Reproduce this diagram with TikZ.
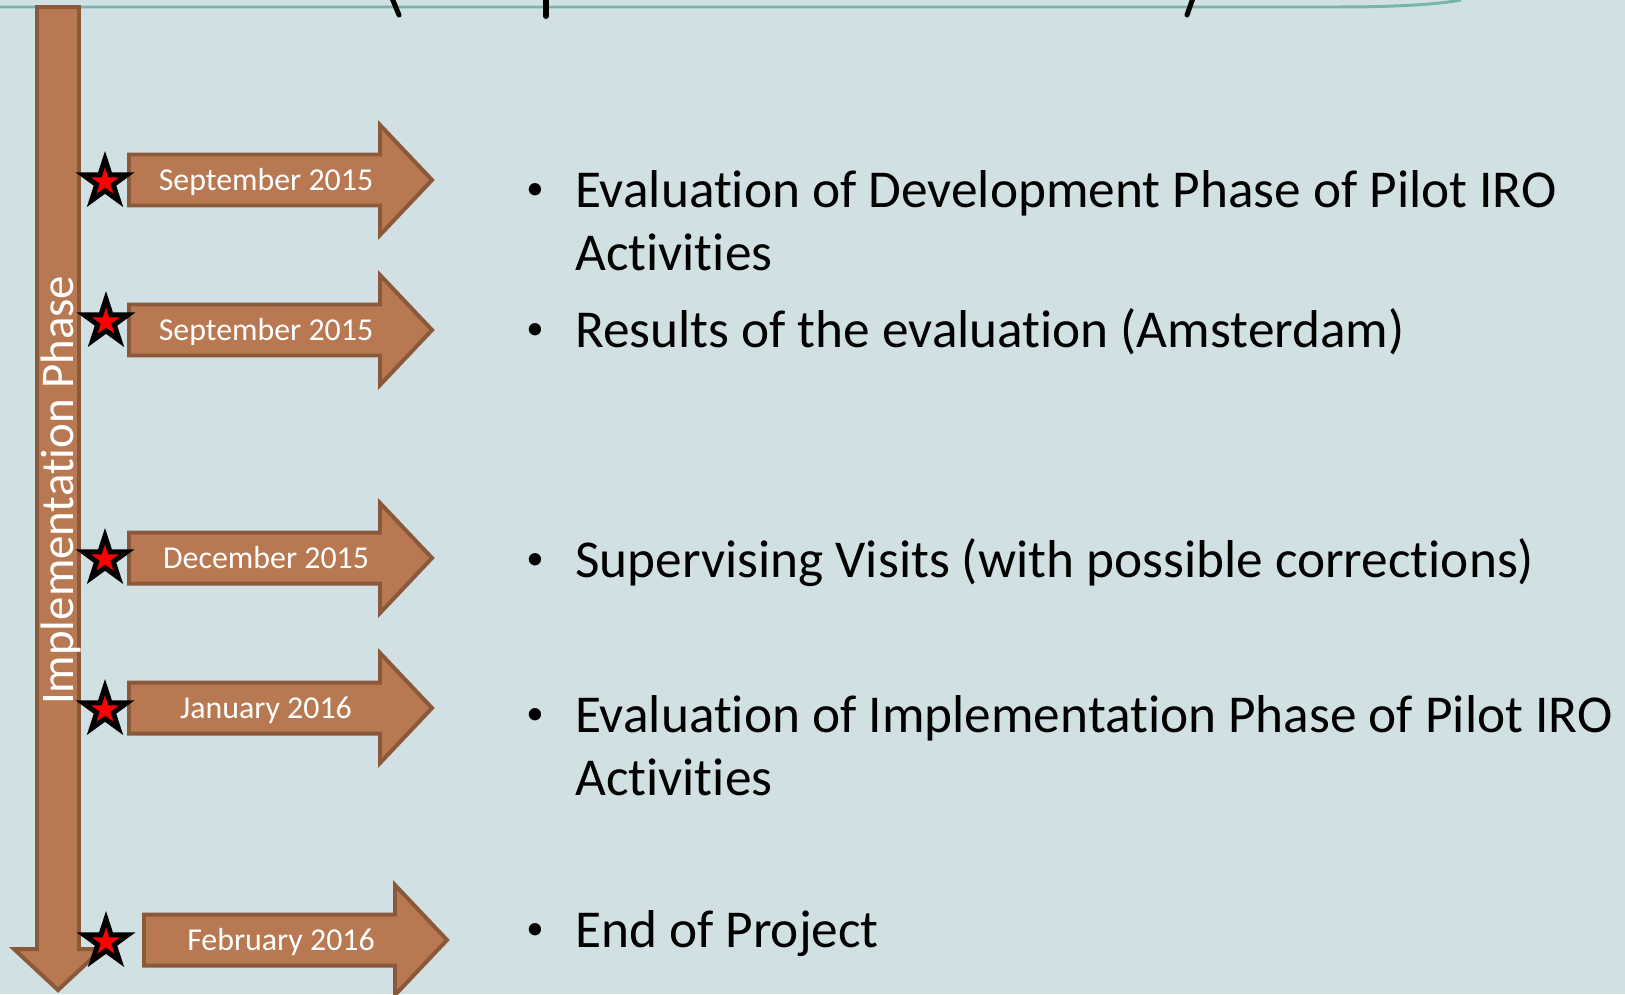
\documentclass[tikz,border=0pt]{standalone}
\usepackage{fontspec}
\setmainfont{Carlito}[Ligatures={NoCommon}]
\usetikzlibrary{shapes.geometric}

\definecolor{slidebg}{RGB}{209,224,227}
\definecolor{copperfill}{RGB}{184,121,82}
\definecolor{copperline}{RGB}{138,89,58}
\definecolor{tealline}{RGB}{120,180,172}

\tikzset{
	arrowbody/.style={fill=copperfill, draw=copperline, line width=4, line join=miter},
	datelabel/.style={text=white, font=\fontsize{32}{38}\selectfont, inner sep=0, anchor=base},
	phaselabel/.style={text=white, font=\fontsize{47}{56}\selectfont, inner sep=0, rotate=90, anchor=base west},
	markstar/.style={star, star points=5, star point ratio=2.618, fill=red, draw=black, line width=5, line join=miter, minimum size=46, inner sep=0, outer sep=0},
	bulletmark/.style={font=\fontsize{35}{42}\selectfont, inner sep=0, anchor=base},
	itemtext/.style={font=\fontsize{53.5}{63}\selectfont, inner sep=0, anchor=base west},
}

% date arrow: (left x, centre y)[name]{label}
\def\datearrow(#1,#2)[#3]#4{
	\draw[arrowbody] (#1, #2-25.5) -- (#1+251, #2-25.5) -- (#1+251, #2-55) -- (#1+303, #2)
		-- (#1+251, #2+55) -- (#1+251, #2+25.5) -- (#1, #2+25.5) -- cycle;
	\node[datelabel] (#3) at (#1+137, #2+10) {#4};
}

\begin{document}
\begin{tikzpicture}[x=1bp, y=-1bp]
			%%%%% START %%%%%
			
			\useasboundingbox (0, 0) rectangle (1625, 994);
			\clip (0, 0) rectangle (1625, 994);
			\fill[slidebg] (0, 0) rectangle (1625, 994);
			
			% title rule and what is left of the title
			\draw[tealline, line width=3] (0, 7) -- (1337, 7) .. controls (1400, 7) and (1440, 4) .. (1461, 0);
			\draw[line width=5, line cap=round] (392, -2) -- (399, 15);
			\draw[line width=6, line cap=round] (546, -2) -- (546, 16);
			\draw[line width=5, line cap=round] (1193, -2) -- (1187, 15);
			
			% time line
			\draw[arrowbody] (37, 7) -- (79, 7) -- (79, 949) -- (102, 949) -- (58, 990) -- (14, 949) -- (37, 949) -- cycle;
			\node[phaselabel] (phase) at (73, 705) {Implementation Phase};
			
			\datearrow(129, 180)[dateA]{September 2015}
			\datearrow(129, 330)[dateB]{September 2015}
			\datearrow(129, 558)[dateC]{December 2015}
			\datearrow(129, 708)[dateD]{January 2016}
			\datearrow(144, 940)[dateE]{February 2016}
			
			\node[markstar] (starA) at (105, 182) {};
			\node[markstar] (starB) at (106, 322) {};
			\node[markstar] (starC) at (105, 559) {};
			\node[markstar] (starD) at (105, 710) {};
			\node[markstar] (starE) at (106, 942) {};
			
			% items
			\node[bulletmark] (dotA) at (535, 199) {•};
			\node[itemtext] (itemA) at (575, 207) {Evaluation of Development Phase of Pilot IRO};
			\node[itemtext] (itemAx) at (575, 270) {Activities};
			\node[bulletmark] (dotB) at (535, 339) {•};
			\node[itemtext] (itemB) at (575, 347) {Results of the evaluation (Amsterdam)};
			\node[bulletmark] (dotC) at (535, 569) {•};
			\node[itemtext] (itemC) at (575, 577) {Supervising Visits (with possible corrections)};
			\node[bulletmark] (dotD) at (535, 724) {•};
			\node[itemtext] (itemD) at (575, 732) {Evaluation of Implementation Phase of Pilot IRO};
			\node[itemtext] (itemDx) at (575, 795) {Activities};
			\node[bulletmark] (dotE) at (535, 939) {•};
			\node[itemtext] (itemE) at (575, 947) {End of Project};
			
			%%%%% END %%%%%
\end{tikzpicture}
\end{document}
